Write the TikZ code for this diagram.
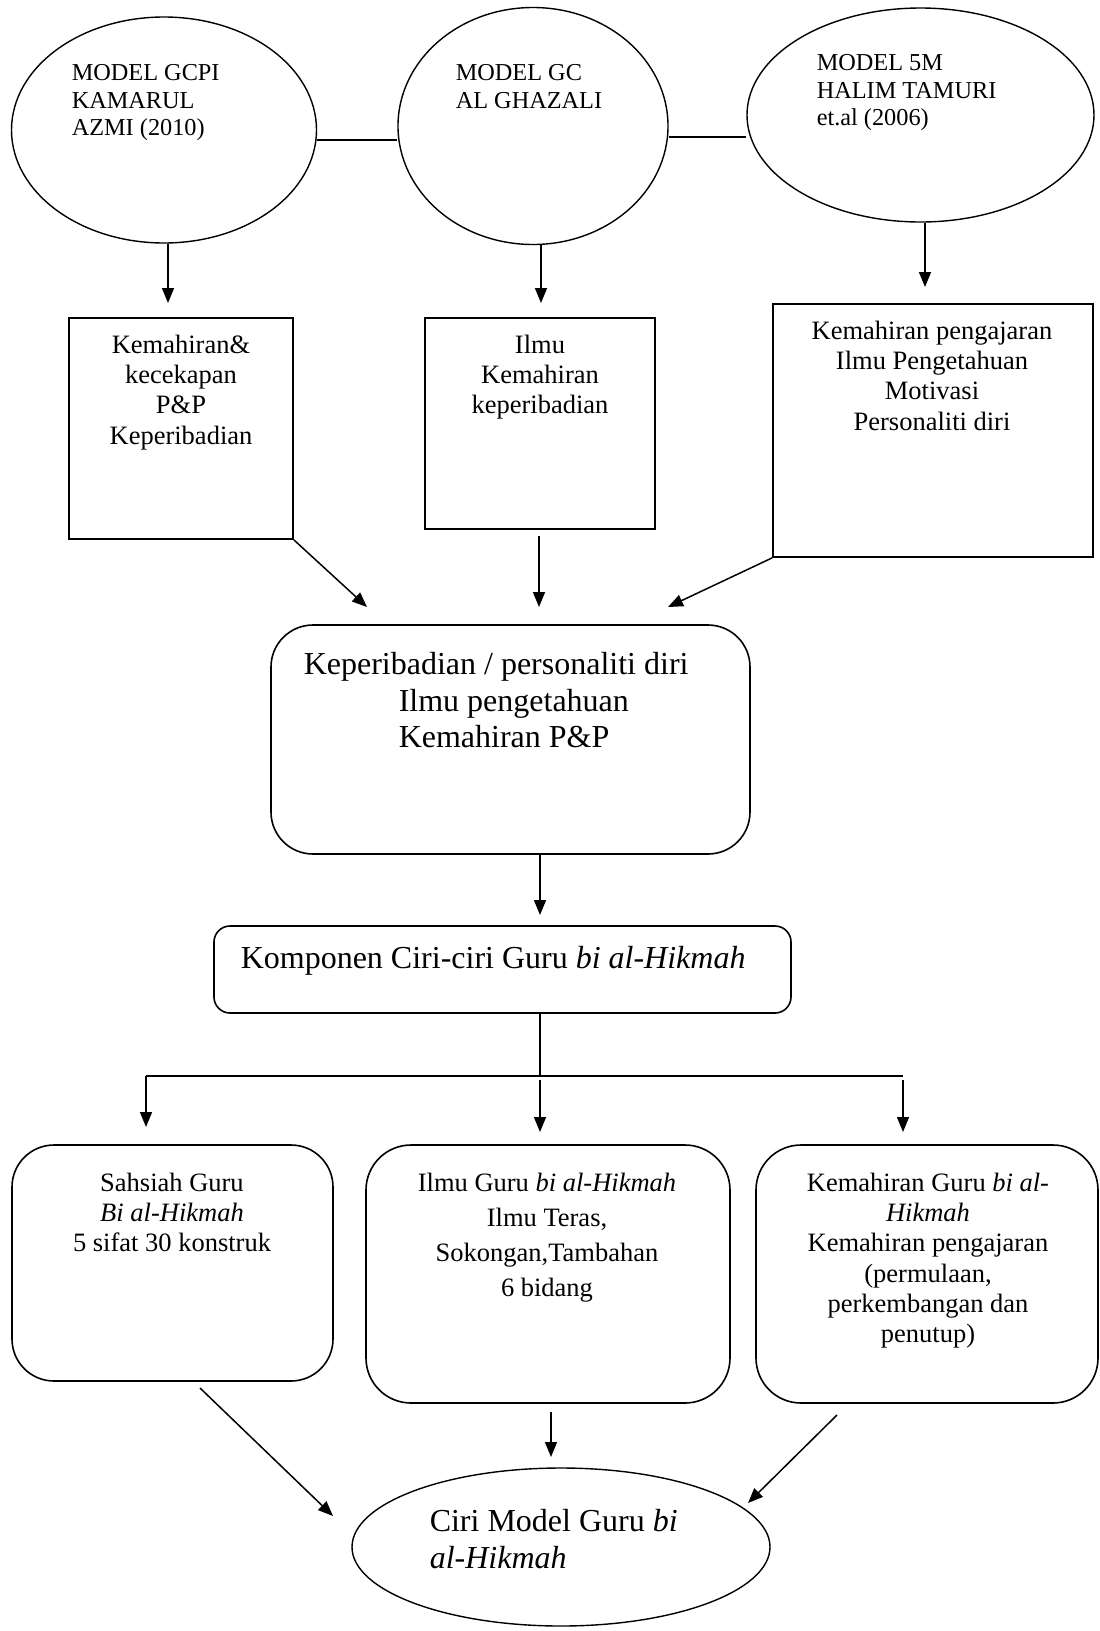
\documentclass[tikz,border=0pt]{standalone}
\usepackage{fontspec}
\setmainfont{Liberation Serif}
\usetikzlibrary{shapes.geometric,arrows.meta}
\newcommand\fsa{\fontsize{24.3}{27.5}\selectfont}
\newcommand\fsb{\fontsize{26.5}{30.3}\selectfont}
\newcommand\fsbb{\fontsize{26.5}{35}\selectfont}
\newcommand\fsc{\fontsize{32}{36.5}\selectfont}
\begin{document}
\begin{tikzpicture}[x=1pt,y=-1pt,line width=1.5pt,
  >={Triangle[length=15pt,width=12pt]},
  oval/.style={draw,ellipse,inner sep=0pt,line width=1.4pt},
  sqbox/.style={draw,rectangle,inner sep=0pt,line width=1.8pt},
  rbox/.style={draw,rectangle,rounded corners=#1,inner sep=0pt,line width=1.6pt},
  txt/.style={inner sep=0pt,anchor=north,align=center},
  ltxt/.style={inner sep=0pt,anchor=north west,align=left},
  arr/.style={->,line width=1.5pt},
  link/.style={line width=1.5pt}]
\useasboundingbox (0,0) rectangle (1100,1631);
% top ellipses
\node[oval,minimum width=305pt,minimum height=226pt] (e1) at (164,130) {};
\node[oval,minimum width=270pt,minimum height=237pt] (e2) at (533,126) {};
\node[oval,minimum width=347pt,minimum height=214pt] (e3) at (920.5,115) {};
\node[ltxt,font=\fsa] (t1) at (71,64) {MODEL GCPI\\KAMARUL\\AZMI (2010)};
\node[ltxt,font=\fsa] (t2) at (455,64) {MODEL GC\\AL GHAZALI};
\node[ltxt,font=\fsa] (t3) at (816,54) {MODEL 5M\\HALIM TAMURI\\et.al (2006)};
\coordinate (y141) at (0,140);
\coordinate (y137) at (0,137);
\draw[link] (e1.east |- y141) -- (e2.west |- y141);
\draw[link] (e2.east |- y137) -- (e3.west |- y137);
% boxes
\node[sqbox,minimum width=224pt,minimum height=221pt] (b1) at (181,428.5) {};
\node[sqbox,minimum width=230pt,minimum height=211pt] (b2) at (540,423.5) {};
\node[sqbox,minimum width=320pt,minimum height=253pt] (b3) at (933,430.5) {};
\node[txt,font=\fsb] (tb1) at (181,334) {Kemahiran\&\\kecekapan\\P\&P\\Keperibadian};
\node[txt,font=\fsb] (tb2) at (540,334) {Ilmu\\Kemahiran\\keperibadian};
\node[txt,font=\fsb] (tb3) at (932,320) {Kemahiran pengajaran\\Ilmu Pengetahuan\\Motivasi\\Personaliti diri};
% arrows ellipses -> boxes
\coordinate (a1) at (168,303);
\coordinate (a2) at (541,303);
\coordinate (a3) at (925,287);
\draw[arr] (e1.south -| a1) -- (a1);
\draw[arr] (e2.south -| a2) -- (a2);
\draw[arr] (e3.south -| a3) -- (a3);
% big box
\node[rbox=42pt,minimum width=479pt,minimum height=229pt] (big) at (510.5,739.5) {};
\node[ltxt,font=\fsc] (tbig) at (303,652) {Keperibadian / personaliti diri\\\hspace*{95pt}Ilmu pengetahuan\\\hspace*{95pt}Kemahiran P\&P};
\coordinate (c1) at (367,607);
\coordinate (s2) at (539,536);
\coordinate (c2) at (539,607);
\coordinate (c3) at (668,607);
\draw[arr] (b1.south east) -- (c1);
\draw[arr] (s2) -- (c2);
\draw[arr] (b3.south west) -- (c3);
% komponen
\node[rbox=16pt,minimum width=577pt,minimum height=87pt] (komp) at (502.5,969.5) {};
\node[ltxt,font=\fsc] (tkomp) at (240,946) {Komponen Ciri-ciri Guru \textit{bi al-Hikmah}};
\coordinate (k1) at (540,915);
\draw[arr] (big.south -| k1) -- (k1);
\coordinate (h0) at (540,1076);
\coordinate (hl) at (146,1076);
\coordinate (hr) at (903,1076);
\draw[link] (komp.south -| h0) -- (h0);
\draw[link] (hl) -- (hr);
\coordinate (dl) at (146,1127);
\coordinate (sm) at (540,1080);
\coordinate (dm) at (540,1132);
\coordinate (sr) at (903,1080);
\coordinate (dr) at (903,1132);
\draw[arr] (hl) -- (dl);
\draw[arr] (sm) -- (dm);
\draw[arr] (sr) -- (dr);
% bottom boxes
\node[rbox=42pt,minimum width=321pt,minimum height=236pt] (bl) at (172.5,1263) {};
\node[rbox=45pt,minimum width=364pt,minimum height=258pt] (bm) at (548,1274) {};
\node[rbox=45pt,minimum width=342pt,minimum height=258pt] (br) at (927,1274) {};
\node[txt,font=\fsb] (tbl) at (172,1172) {Sahsiah Guru\\\textit{Bi al-Hikmah}\\5 sifat 30 konstruk};
\node[txt,font=\fsbb] (tbm) at (547,1172) {Ilmu Guru \textit{bi al-Hikmah}\\Ilmu Teras,\\Sokongan,Tambahan\\6 bidang};
\node[txt,font=\fsb] (tbr) at (928,1172) {Kemahiran Guru \textit{bi al-}\\\textit{Hikmah}\\Kemahiran pengajaran\\(permulaan,\\perkembangan dan\\penutup)};
% final ellipse
\node[oval,minimum width=418pt,minimum height=158pt] (fin) at (561,1547) {};
\node[ltxt,font=\fsc] (tfin) at (429,1509) {Ciri Model Guru \textit{bi}\\\textit{al-Hikmah}};
\coordinate (l0) at (200,1388);
\coordinate (l1) at (333,1516);
\coordinate (m0) at (551,1412);
\coordinate (m1) at (551,1457);
\coordinate (r0) at (837,1415);
\coordinate (r1) at (748,1503);
\draw[arr] (l0) -- (l1);
\draw[arr] (m0) -- (m1);
\draw[arr] (r0) -- (r1);
\end{tikzpicture}
\end{document}
